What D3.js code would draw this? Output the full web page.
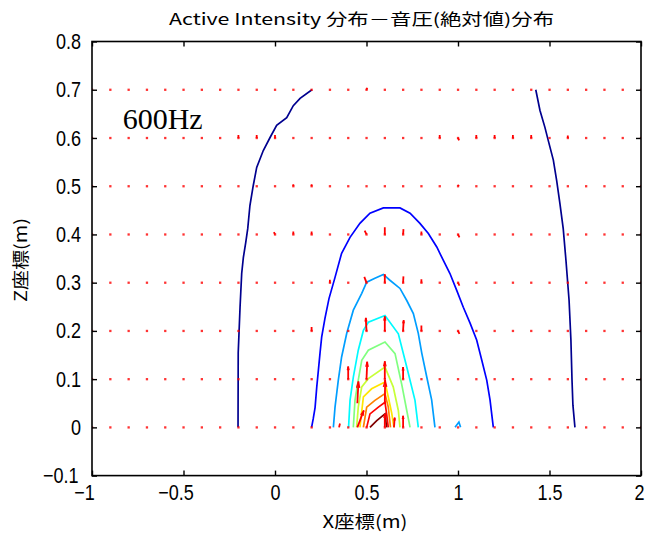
<!DOCTYPE html>
<html>
<head>
<meta charset="utf-8">
<script src="https://cdn.jsdelivr.net/npm/d3@7"></script>
<style>
    body { margin: 0; background: #fff; }
    .tick text { font-family: "Liberation Sans", Arial, sans-serif; font-size: 22px; fill: #000; }
    .tick line { stroke: #000; stroke-width: 1.4; }
    .jp { font-family: "Noto Sans CJK JP", sans-serif; fill: #000; }
</style>
</head>
<body>
<svg id="chart" width="646" height="535"></svg>
<script>
// ---- data ----
const xTicks = [-1, -0.5, 0, 0.5, 1, 1.5, 2];
const zTicks = [-0.1, 0, 0.1, 0.2, 0.3, 0.4, 0.5, 0.6, 0.7, 0.8];

// measurement grid of the intensity probe
const gridX = [-1, -0.9, -0.8, -0.7, -0.6, -0.5, -0.4, -0.3, -0.2, -0.1, 0, 0.1, 0.2, 0.3, 0.4,
    0.5, 0.6, 0.7, 0.8, 0.9, 1, 1.1, 1.2, 1.3, 1.4, 1.5, 1.6, 1.7, 1.8, 1.9, 2];
const gridZ = [0, 0.1, 0.2, 0.3, 0.4, 0.5, 0.6, 0.7];

// visible intensity vectors [x, z, u, v]; every other grid point is ~zero
const arrows = [
    [0.5, 0.7, 0.004, 0.004],
    [-0.2, 0.6, 0, 0.006], [-0.1, 0.6, 0, 0.006], [0, 0.6, 0, 0.006], [0.9, 0.6, 0, 0.006],
    [1.0, 0.6, 0.006, -0.005], [1.1, 0.6, 0, 0.006], [1.2, 0.6, 0, 0.006], [1.3, 0.6, 0, 0.006],
    [1.4, 0.6, 0, 0.006], [1.6, 0.6, 0, 0.005],
    [0.1, 0.5, 0, 0.004], [0.2, 0.5, 0, 0.004], [1.0, 0.5, 0.004, 0.003],
    [0, 0.4, -0.006, 0.005], [0.1, 0.4, 0, 0.006], [0.2, 0.4, 0, 0.006], [0.5, 0.4, -0.01, 0.008],
    [0.6, 0.4, 0, 0.015], [0.7, 0.4, 0.002, 0.011], [0.8, 0.4, 0, 0.006], [1.0, 0.4, 0.008, -0.006],
    [0.3, 0.3, 0, 0.006], [0.5, 0.3, -0.012, 0.012], [0.6, 0.3, 0, 0.017], [0.7, 0.3, 0.002, 0.013],
    [0.8, 0.3, 0, 0.007], [1.0, 0.3, 0.008, -0.006],
    [0.2, 0.2, 0, 0.008], [0.5, 0.2, -0.004, 0.027], [0.6, 0.2, 0, 0.03], [0.7, 0.2, 0.003, 0.022],
    [0.8, 0.2, 0, 0.011], [1.0, 0.2, 0.008, -0.006],
    [0.4, 0.1, 0, 0.026], [0.5, 0.1, 0.004, 0.036], [0.6, 0.1, 0, 0.037], [0.7, 0.1, 0, 0.025],
    [0.45, 0.05, 0.006, 0.045], [0.6, 0.05, 0.002, 0.048],
    [0.35, 0, 0.005, 0.008], [0.45, 0, 0.035, 0.035], [0.6, 0, 0, 0.028], [0.65, 0, 0.004, 0.02],
    [0.7, 0, 0, 0.024],
];

// |p| contour lines, [x, z] points; level is the normalised pressure value
const navyLeft = [[-0.202, 0], [-0.201, 0.154], [-0.191, 0.249], [-0.182, 0.319], [-0.173, 0.352],
    [-0.16, 0.383], [-0.149, 0.412], [-0.137, 0.46], [-0.119, 0.501], [-0.1, 0.539], [-0.064, 0.574],
    [-0.027, 0.601], [0.009, 0.626], [0.064, 0.642], [0.1, 0.667], [0.137, 0.682], [0.202, 0.7]];
const navyRight = [[1.425, 0.7], [1.448, 0.657], [1.475, 0.622], [1.493, 0.595], [1.521, 0.554],
    [1.539, 0.512], [1.557, 0.464], [1.575, 0.412], [1.59, 0.346], [1.607, 0.263], [1.617, 0.181],
    [1.623, 0.098], [1.628, 0.046], [1.639, 0]];
const blueLine = [[0.2, 0], [0.209, 0.018], [0.219, 0.041], [0.228, 0.083], [0.237, 0.118],
    [0.246, 0.154], [0.255, 0.187], [0.273, 0.226], [0.295, 0.267], [0.328, 0.311], [0.364, 0.361],
    [0.41, 0.394], [0.464, 0.423], [0.519, 0.444], [0.592, 0.455], [0.683, 0.455], [0.738, 0.444],
    [0.792, 0.423], [0.838, 0.402], [0.884, 0.374], [0.92, 0.346], [0.956, 0.319], [0.993, 0.284],
    [1.029, 0.249], [1.066, 0.216], [1.102, 0.181], [1.13, 0.139], [1.157, 0.098], [1.175, 0.057],
    [1.193, 0]];
const steelLine = [[0.319, 0], [0.328, 0.042], [0.346, 0.098], [0.364, 0.146], [0.392, 0.195],
    [0.428, 0.243], [0.474, 0.278], [0.501, 0.301], [0.546, 0.309], [0.592, 0.317], [0.628, 0.305],
    [0.683, 0.288], [0.72, 0.263], [0.756, 0.236], [0.783, 0.195], [0.802, 0.154], [0.829, 0.105],
    [0.856, 0.057], [0.874, 0]];
const steelSmall = [[0.984, 0], [1.005, 0.011], [1.014, 0]];
const cyanLine = [[0.402, 0], [0.41, 0.056], [0.428, 0.104], [0.455, 0.16], [0.483, 0.201],
    [0.51, 0.218], [0.601, 0.232], [0.674, 0.194], [0.72, 0.125], [0.765, 0.056], [0.783, 0]];
const greenLine = [[0.428, 0], [0.437, 0.056], [0.455, 0.098], [0.474, 0.139], [0.51, 0.16],
    [0.601, 0.177], [0.656, 0.153], [0.692, 0.09], [0.72, 0.035], [0.738, 0]];
const limeLine = [[0.446, 0], [0.455, 0.042], [0.474, 0.084], [0.51, 0.101], [0.601, 0.125],
    [0.646, 0.084], [0.674, 0.035], [0.683, 0]];
const yellowLine = [[0.464, 0], [0.483, 0.063], [0.528, 0.08], [0.601, 0.094], [0.619, 0.063],
    [0.638, 0.029], [0.65, 0]];
const orangeLine = [[0.483, 0], [0.501, 0.042], [0.546, 0.056], [0.601, 0.07], [0.619, 0.042],
    [0.631, 0]];
const redLine = [[0.501, 0], [0.519, 0.028], [0.565, 0.042], [0.601, 0.052], [0.61, 0.028],
    [0.619, 0]];
const darkRedLine = [[0.519, 0], [0.556, 0.014], [0.601, 0.028], [0.61, 0]];

const contours = [
    { level: 0, pts: navyLeft }, { level: 0, pts: navyRight },
    { level: 0.125, pts: blueLine },
    { level: 0.28, pts: steelLine }, { level: 0.28, pts: steelSmall },
    { level: 0.37, pts: cyanLine },
    { level: 0.5, pts: greenLine },
    { level: 0.57, pts: limeLine },
    { level: 0.65, pts: yellowLine },
    { level: 0.75, pts: orangeLine },
    { level: 0.87, pts: redLine },
    { level: 1, pts: darkRedLine },
];

// ---- layout ----
const svg = d3.select('#chart');
const plot = { left: 92, right: 641, top: 41.5, bottom: 475.6 };
const narrow = 0.82;   // horizontal squeeze of the tick font

const x = d3.scaleLinear().domain([-1, 2]).range([plot.left, plot.right]);
const y = d3.scaleLinear().domain([-0.1, 0.8]).range([plot.bottom, plot.top]);

// jet colormap
const jet = d3.scaleLinear()
    .domain([0, 0.125, 0.375, 0.625, 0.875, 1])
    .range(['#00008f', '#0000ff', '#00ffff', '#ffff00', '#ff0000', '#800000']);

svg.append('defs').append('clipPath').attr('id', 'plot-clip')
    .append('rect')
    .attr('x', plot.left).attr('y', plot.top)
    .attr('width', plot.right - plot.left).attr('height', plot.bottom - plot.top);

const gPlot = svg.append('g').attr('clip-path', 'url(#plot-clip)');

const line = d3.line().x(d => x(d[0])).y(d => y(d[1]));

gPlot.selectAll('path.contour')
    .data(contours)
    .join('path')
    .attr('class', 'contour')
    .attr('d', d => line(d.pts))
    .attr('fill', 'none')
    .attr('stroke', d => jet(d.level))
    .attr('stroke-width', 1.7);

// quiver: base dots on the whole grid
const gridPts = gridZ.flatMap(z => gridX.map(gx => [gx, z]));
gPlot.selectAll('rect.dot')
    .data(gridPts)
    .join('rect')
    .attr('class', 'dot')
    .attr('x', d => x(d[0]) - 1.1)
    .attr('y', d => y(d[1]) - 1.1)
    .attr('width', 2.3)
    .attr('height', 2.3)
    .attr('fill', '#ff0000')
    .attr('fill-opacity', 0.8);

// visible vectors with slim heads
const gArrows = gPlot.append('g')
    .attr('stroke', '#ff0000')
    .attr('stroke-width', 1.8)
    .attr('fill', 'none');

arrows.forEach(([ax, az, u, v]) => {
    const x0 = x(ax), y0 = y(az);
    const x1 = x(ax + u), y1 = y(az + v);
    gArrows.append('line')
        .attr('x1', x0).attr('y1', y0)
        .attr('x2', x1).attr('y2', y1);
    const len = Math.hypot(x1 - x0, y1 - y0);
    if (len > 8) {
        const ang = Math.atan2(y0 - y1, x0 - x1);
        const h = len * 0.3;
        [-0.25, 0.25].forEach(da => {
            gArrows.append('line')
                .attr('stroke-width', 1.2)
                .attr('x1', x1).attr('y1', y1)
                .attr('x2', x1 + h * Math.cos(ang + da))
                .attr('y2', y1 + h * Math.sin(ang + da));
        });
    }
});

// ---- axes (box with inward ticks on all sides) ----
const fmt = d3.format('');

const gx = svg.append('g')
    .attr('transform', `translate(0,${plot.bottom})`)
    .call(d3.axisBottom(x).tickValues(xTicks).tickSizeInner(-5).tickSizeOuter(0)
        .tickPadding(9).tickFormat(fmt));
gx.selectAll('.tick text')
    .attr('transform', `scale(${narrow},1)`)
    .attr('dx', d => d < 0 ? -8 / narrow : d === 2 ? -2 / narrow : 0);

svg.append('g')
    .attr('transform', `translate(0,${plot.top})`)
    .call(d3.axisTop(x).tickValues(xTicks).tickSizeInner(-5).tickSizeOuter(0).tickFormat(''));

const gy = svg.append('g')
    .attr('transform', `translate(${plot.left},0)`)
    .call(d3.axisLeft(y).tickValues(zTicks).tickSizeInner(-5).tickSizeOuter(0)
        .tickPadding(11 / narrow).tickFormat(fmt));
gy.selectAll('.tick text')
    .attr('transform', `scale(${narrow},1)`)
    .attr('dx', d => d < 0 ? -2.5 / narrow : 0);

svg.append('g')
    .attr('transform', `translate(${plot.right},0)`)
    .call(d3.axisRight(y).tickValues(zTicks).tickSizeInner(-5).tickSizeOuter(0).tickFormat(''));

svg.selectAll('.domain').remove();

svg.append('rect')
    .attr('x', plot.left).attr('y', plot.top)
    .attr('width', plot.right - plot.left).attr('height', plot.bottom - plot.top)
    .attr('fill', 'none')
    .attr('stroke', '#000')
    .attr('stroke-width', 1.6);

// ---- texts ----
svg.append('text')
    .attr('class', 'jp')
    .attr('x', 361.5).attr('y', 25)
    .attr('text-anchor', 'middle')
    .attr('font-size', 16)
    .attr('textLength', 385)
    .attr('lengthAdjust', 'spacingAndGlyphs')
    .text('Active Intensity 分布－音圧(絶対値)分布');

svg.append('text')
    .attr('class', 'jp')
    .attr('x', 365).attr('y', 528)
    .attr('text-anchor', 'middle')
    .attr('font-size', 17)
    .attr('textLength', 85)
    .attr('lengthAdjust', 'spacingAndGlyphs')
    .text('X座標(m)');

svg.append('text')
    .attr('class', 'jp')
    .attr('transform', 'translate(27,260) rotate(-90)')
    .attr('text-anchor', 'middle')
    .attr('font-size', 17)
    .attr('textLength', 84)
    .attr('lengthAdjust', 'spacingAndGlyphs')
    .text('Z座標(m)');

svg.append('text')
    .attr('x', 122.7).attr('y', 129.3)
    .attr('font-family', '"Liberation Serif", "Times New Roman", serif')
    .attr('font-size', 30)
    .text('600Hz');
</script>
</body>
</html>
